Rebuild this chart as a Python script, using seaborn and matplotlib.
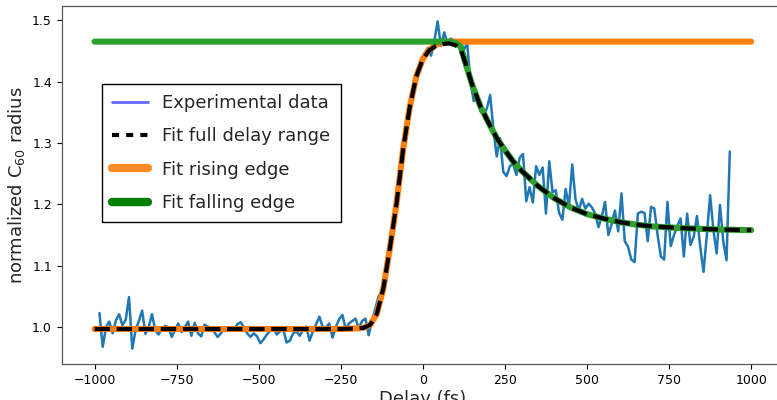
import numpy as np
import matplotlib
matplotlib.use("Agg")
import matplotlib.pyplot as plt
from matplotlib.lines import Line2D
from matplotlib.ticker import MultipleLocator
import seaborn as sns

# delay grid of the measurement (fs), 10 fs steps
delay = np.arange(-985, 945, 10)

# normalized C60 radius
radius = [
    1.023, 0.968, 1.000, 1.009, 0.990, 1.011, 1.021, 1.003, 1.012, 1.049,
    0.965, 0.995, 1.010, 1.027, 0.989, 1.000, 1.021, 0.995, 0.988, 0.997,
    1.002, 1.000, 0.984, 0.995, 1.006, 0.992, 1.000, 1.009, 0.986, 1.007,
    0.990, 0.985, 1.004, 1.001, 0.998, 0.992, 0.984, 0.990, 0.998, 0.995,
    0.997, 0.995, 1.005, 1.008, 1.000, 0.990, 0.984, 0.990, 0.985, 0.974,
    0.980, 0.988, 0.994, 1.000, 0.988, 0.993, 0.996, 0.975, 0.978, 0.990,
    0.993, 0.986, 0.995, 1.001, 0.978, 0.993, 1.005, 1.017, 1.000, 1.000,
    1.006, 0.983, 1.000, 1.013, 1.020, 0.997, 1.006, 1.010, 1.014, 0.998,
    1.010, 1.014, 0.987, 1.010, 1.030, 1.050, 1.058, 1.085, 1.118, 1.150,
    1.190, 1.222, 1.268, 1.312, 1.345, 1.380, 1.398, 1.420, 1.430, 1.446,
    1.455, 1.442, 1.466, 1.498, 1.458, 1.480, 1.462, 1.470, 1.466, 1.458,
    1.462, 1.452, 1.462, 1.400, 1.368, 1.380, 1.352, 1.346, 1.356, 1.378,
    1.322, 1.278, 1.308, 1.253, 1.246, 1.262, 1.266, 1.248, 1.276, 1.282,
    1.205, 1.228, 1.203, 1.262, 1.248, 1.260, 1.185, 1.270, 1.220, 1.223,
    1.186, 1.175, 1.225, 1.197, 1.265, 1.208, 1.190, 1.209, 1.193, 1.201,
    1.195, 1.185, 1.163, 1.180, 1.204, 1.150, 1.168, 1.190, 1.156, 1.218,
    1.140, 1.131, 1.110, 1.106, 1.185, 1.188, 1.186, 1.140, 1.196, 1.193,
    1.150, 1.115, 1.110, 1.204, 1.132, 1.150, 1.165, 1.177, 1.115, 1.185,
    1.134, 1.147, 1.181, 1.130, 1.090, 1.150, 1.215, 1.158, 1.120, 1.199,
    1.140, 1.109, 1.286,
]

# rising edge fit
rise_x = [-1000, -250, -200, -180, -160, -140, -120, -100, -80, -60, -40,
          -20, 0, 20, 40, 60, 80, 100, 1000]
rise_y = [0.997, 0.997, 0.998, 0.999, 1.004, 1.022, 1.064, 1.130, 1.202,
          1.290, 1.358, 1.408, 1.437, 1.452, 1.460, 1.463, 1.465, 1.465, 1.465]

# falling edge fit
fall_x = [-1000, 80, 100, 115, 130, 150, 175, 200, 225, 250, 275, 300, 350,
          400, 450, 500, 550, 600, 650, 700, 800, 900, 1000]
fall_y = [1.465, 1.465, 1.463, 1.457, 1.430, 1.395, 1.360, 1.333, 1.308,
          1.288, 1.270, 1.255, 1.230, 1.210, 1.195, 1.184, 1.177, 1.171,
          1.167, 1.164, 1.161, 1.159, 1.158]

# fit over the full delay range
full_x = [-1000, -250, -200, -180, -160, -140, -120, -100, -80, -60, -40,
          -20, 0, 20, 40, 60, 80, 100, 115, 130, 150, 175, 200, 225, 250,
          275, 300, 350, 400, 450, 500, 550, 600, 650, 700, 800, 900, 1000]
full_y = [0.997, 0.997, 0.998, 0.999, 1.004, 1.022, 1.064, 1.130, 1.202,
          1.290, 1.358, 1.408, 1.437, 1.451, 1.458, 1.461, 1.462, 1.459,
          1.453, 1.430, 1.395, 1.360, 1.333, 1.308, 1.288, 1.270, 1.255,
          1.230, 1.210, 1.195, 1.184, 1.177, 1.171, 1.167, 1.164, 1.161,
          1.159, 1.158]

sns.set_style("ticks")
plt.rcParams['font.family'] = ['DejaVu Sans']

fig = plt.figure(figsize=(7.77, 4.0), dpi=100)
ax = fig.add_axes([0.0794, 0.09, 0.9296, 0.895])

sns.lineplot(x=delay, y=radius, ax=ax, color='tab:blue', lw=1.8, zorder=2)
sns.lineplot(x=rise_x, y=rise_y, ax=ax, color='tab:orange', lw=4.4, zorder=3)
sns.lineplot(x=fall_x, y=fall_y, ax=ax, color='tab:green', lw=4.4, zorder=4)
sns.lineplot(x=full_x, y=full_y, ax=ax, color='black', lw=3, linestyle='--', zorder=5)

ax.set_xlim(-1100, 1100)
ax.set_ylim(0.940, 1.523)
ax.xaxis.set_major_locator(MultipleLocator(250))
ax.yaxis.set_major_locator(MultipleLocator(0.1))
ax.tick_params(labelsize=9, colors='black')
for s in ax.spines.values():
    s.set_color('0.35')
    s.set_linewidth(0.9)

ax.set_xlabel('Delay (fs)', fontsize=13, labelpad=2)
ax.set_ylabel('normalized C$_{60}$ radius', fontsize=13)

handles = [
    Line2D([], [], color='blue', alpha=0.6, lw=2),
    Line2D([], [], color='black', lw=3, linestyle=(0, (1.7, 1.7))),
    Line2D([], [], color='tab:orange', alpha=0.9, lw=6),
    Line2D([], [], color='green', lw=6),
]
labels = ['Experimental data', 'Fit full delay range', 'Fit rising edge',
          'Fit falling edge']
leg = ax.legend(handles, labels, loc='upper left', bbox_to_anchor=(0.0558, 0.782),
                borderaxespad=0, fontsize=13, fancybox=False, framealpha=1,
                labelspacing=0.85, borderpad=0.55)
leg.get_frame().set_edgecolor('black')
leg.get_frame().set_linewidth(1.0)

fig.savefig('out.png', dpi=100)
